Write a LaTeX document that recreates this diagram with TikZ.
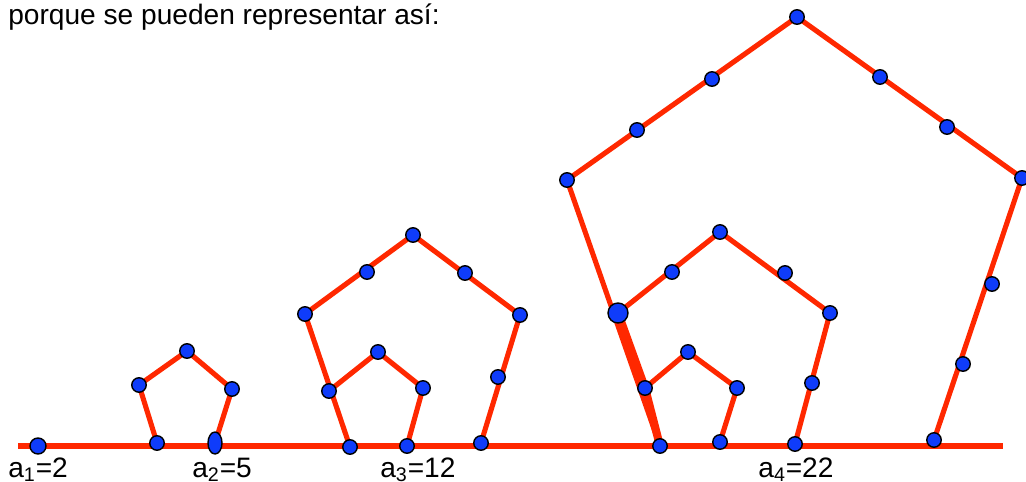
\documentclass[tikz,border=0pt]{standalone}
\usepackage{fontspec}
\setmainfont{Liberation Sans}
\usepackage{tikz}
\usetikzlibrary{positioning,backgrounds,shapes.geometric}
\definecolor{beadblue}{RGB}{15,60,250}
\definecolor{edgered}{RGB}{255,40,0}
\tikzset{
  bead/.style={circle, draw=black, line width=0.8pt, fill=beadblue,
    inner sep=0pt, minimum size=0.29cm},
  big-bead/.style={bead, minimum size=0.4cm},
  long-bead/.style={ellipse, draw=black, line width=0.8pt, fill=beadblue,
    inner sep=0pt, minimum width=0.28cm, minimum height=0.44cm},
  side-edge/.style={draw=edgered, line width=2.9pt, line join=round},
  thick-edge/.style={draw=edgered, line width=4.6pt},
  base-edge/.style={draw=edgered, line width=3.4pt},
  caption-text/.style={font=\fontsize{16}{19}\selectfont, anchor=base west, inner sep=0pt}
}
\begin{document}
\begin{tikzpicture}[x=0.02cm, y=-0.02cm]
\useasboundingbox (0,0) rectangle (1026,482);

% Heading
\node[caption-text] (head) at (8,25) {porque se pueden representar así:};

% a1
\node[bead, minimum height=0.32cm] (d1) at (38,446) {};

% a2
\node[bead] (p2bl) at (157,443) {};
\node[bead] (p2l) at (139,385) {};
\node[bead] (p2t) at (187,351) {};
\node[bead] (p2r) at (232,389) {};
\node[long-bead] (p2br) at (215,443) {};

% a3, outer pentagon
\node[bead] (p3bl) at (350,447) {};
\node[bead] (p3l) at (305,314) {};
\node[bead] (p3t) at (413,235) {};
\node[bead] (p3r) at (520,315) {};
\node[bead] (p3br) at (481,443) {};
\node[bead] (p3a) at (367,272) {};
\node[bead] (p3b) at (465,273) {};
\node[bead] (p3c) at (498,377) {};
\node[bead] (p3d) at (329,391) {};
% a3, inner pentagon
\node[bead] (p3it) at (378,352) {};
\node[bead] (p3ir) at (423,388) {};
\node[bead] (p3ibr) at (407,446) {};

% a4, outer pentagon
\node[bead] (p4bl) at (660,446) {};
\node[bead] (p4l) at (567,180) {};
\node[bead] (p4t) at (797,17) {};
\node[bead] (p4r) at (1022,178) {};
\node[bead] (p4br) at (934,440) {};
\node[bead] (p4a) at (637,130) {};
\node[bead] (p4b) at (712,79) {};
\node[bead] (p4c) at (880,77) {};
\node[bead] (p4d) at (947,127) {};
\node[bead] (p4e) at (992,284) {};
\node[bead] (p4f) at (963,364) {};
\node[bead] (p4g) at (645,388) {};
\node[big-bead] (p4h) at (618,313) {};
% a4, middle pentagon
\node[bead] (p4mt) at (720,232) {};
\node[bead] (p4mr) at (830,313) {};
\node[bead] (p4mbr) at (795,444) {};
\node[bead] (p4ma) at (672,272) {};
\node[bead] (p4mb) at (785,273) {};
\node[bead] (p4mc) at (812,383) {};
% a4, inner pentagon
\node[bead] (p4it) at (688,352) {};
\node[bead] (p4ir) at (737,388) {};
\node[bead] (p4ibr) at (720,442) {};

% Labels
\node[caption-text] (lab1) at (8,477) {a\textsubscript{1}=2};
\node[caption-text] (lab2) at (192,477) {a\textsubscript{2}=5};
\node[caption-text] (lab3) at (380,477) {a\textsubscript{3}=12};
\node[caption-text] (lab4) at (758,477) {a\textsubscript{4}=22};

% Red lines
\begin{scope}[on background layer]
\coordinate (baseL) at (18,446);
\coordinate (baseR) at (1003,446);
\draw[base-edge] (baseL) -- (baseR);
\draw[side-edge] (p2bl.center) -- (p2l.center) -- (p2t.center) -- (p2r.center) -- (p2br.center);
\draw[side-edge] (p3bl.center) -- (p3l.center) -- (p3t.center) -- (p3r.center) -- (p3br.center);
\draw[side-edge] (p3d.center) -- (p3it.center) -- (p3ir.center) -- (p3ibr.center);
\draw[side-edge] (p4bl.center) -- (p4l.center) -- (p4t.center) -- (p4r.center) -- (p4br.center);
\draw[side-edge] (p4h.center) -- (p4mt.center) -- (p4mr.center) -- (p4mbr.center);
\draw[side-edge] (p4g.center) -- (p4it.center) -- (p4ir.center) -- (p4ibr.center);
\draw[thick-edge] (p4h.center) -- (p4g.center) -- (p4bl.center);
\end{scope}
\end{tikzpicture}
\end{document}
